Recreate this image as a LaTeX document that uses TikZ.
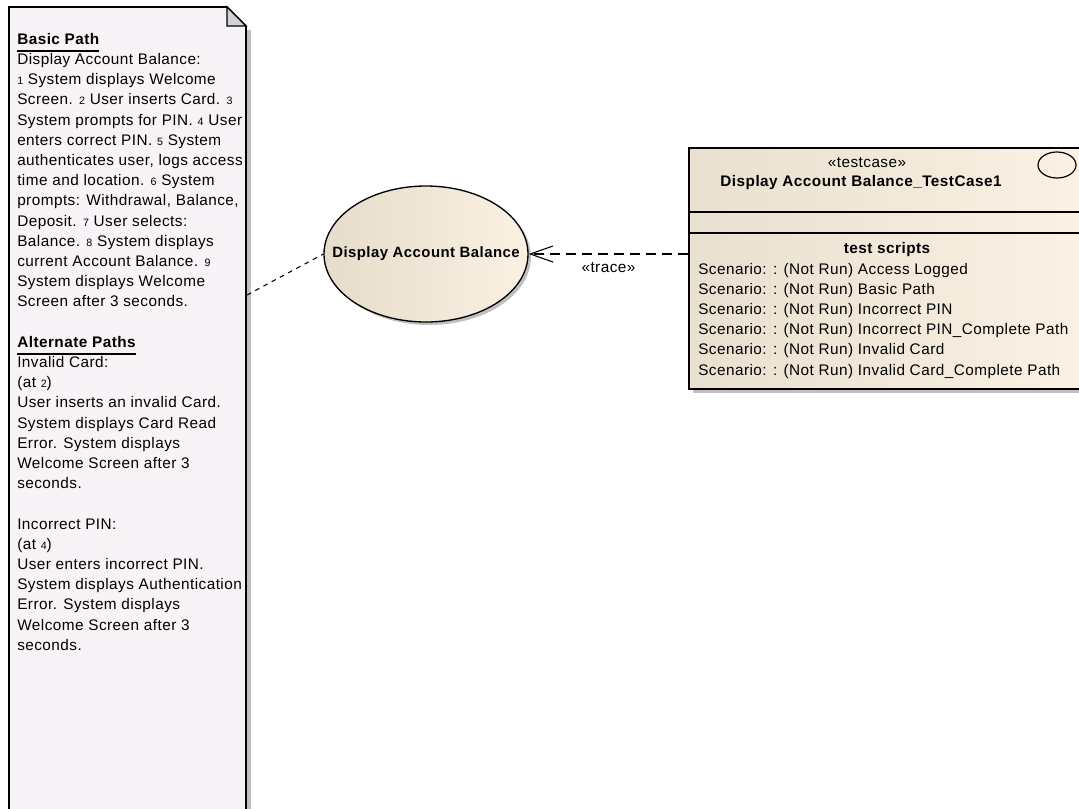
\documentclass[tikz,border=0pt]{standalone}
\usepackage{fontspec}
\setmainfont{Liberation Sans}
\newfontfamily\eafont{Liberation Sans}[LetterSpace=3]
\usetikzlibrary{shapes.geometric,arrows.meta}

\definecolor{notefill}{RGB}{247,243,247}
\definecolor{notefold}{RGB}{210,210,214}
\definecolor{shadowgray}{RGB}{192,192,192}
\definecolor{ucleft}{RGB}{230,220,203}
\definecolor{ucright}{RGB}{250,241,227}
\definecolor{tcleft}{RGB}{233,224,208}
\definecolor{tcright}{RGB}{251,241,228}

\newcommand\stepno[1]{{\fontsize{8}{8}\selectfont #1}}
\newcommand\ulhead[1]{\setbox0\hbox{\bfseries #1}\rlap{\rule[-5.5pt]{\wd0}{1.6pt}}\box0}

\tikzset{
  notebody/.style={fill=notefill, draw=black, line width=1.3pt},
  notecorner/.style={fill=notefold, draw=black, line width=1pt},
  shadowfill/.style={fill=shadowgray, draw=none},
  usecase/.style={ellipse, draw=black, line width=1pt, left color=ucleft, right color=ucright,
    minimum width=153pt, minimum height=102pt, inner sep=0pt,
    font=\eafont\bfseries\fontsize{11.2}{13}\selectfont},
  testbox/.style={rectangle, draw=black, line width=1pt, left color=tcleft, right color=tcright,
    minimum width=297pt, minimum height=180.75pt, inner sep=0pt},
  plaintext/.style={inner sep=0pt, font=\eafont\fontsize{11.5}{15.15}\selectfont},
  boldtext/.style={inner sep=0pt, font=\eafont\bfseries\fontsize{11.5}{15.15}\selectfont},
  notedash/.style={line width=0.8pt, dash pattern=on 3.5pt off 3.5pt},
  tracedash/.style={line width=0.8pt, dash pattern=on 7.5pt off 4.5pt,
    -{Straight Barb[length=17pt, width=12pt]}},
}

\begin{document}
\begin{tikzpicture}[x=0.75pt, y=-0.75pt]
  \useasboundingbox (0,0) rectangle (1079,808);
  \clip (0,0) rectangle (1079,808);

  % note on the left
  \path[shadowfill] (246,30) rectangle (251,820);
  \draw[notebody] (9,7) -- (227,7) -- (246,26) -- (246,820) -- (9,820) -- cycle;
  \draw[notecorner] (227,7) -- (246,26) -- (227,26) -- cycle;
  \node[plaintext, anchor=north west, align=left] (notetext) at (17,33) {%
    \ulhead{Basic Path}\\
    Display Account Balance:\\
    \stepno{1} System displays Welcome\\
    Screen. \stepno{2} User inserts Card. \stepno{3}\\
    System prompts for PIN. \stepno{4} User\\
    enters correct PIN. \stepno{5} System\\
    authenticates user, logs access\\
    time and location. \stepno{6} System\\
    prompts: Withdrawal, Balance,\\
    Deposit. \stepno{7} User selects:\\
    Balance. \stepno{8} System displays\\
    current Account Balance. \stepno{9}\\
    System displays Welcome\\
    Screen after 3 seconds.\\[15.15pt]
    \ulhead{Alternate Paths}\\
    Invalid Card:\\
    (at \stepno{2})\\
    User inserts an invalid Card.\\
    System displays Card Read\\
    Error. System displays\\
    Welcome Screen after 3\\
    seconds.\\[15.15pt]
    Incorrect PIN:\\
    (at \stepno{4})\\
    User enters incorrect PIN.\\
    System displays Authentication\\
    Error. System displays\\
    Welcome Screen after 3\\
    seconds.};
  \coordinate (notelink) at (247,295);

  % use case
  \fill[shadowgray] (429,257) ellipse [x radius=102, y radius=68];
  \node[usecase] (uc) at (426,254) {\makebox[0pt]{Display Account Balance}};

  % test case class
  \path[shadowfill] (693,152) rectangle (1090,393);
  \node[testbox] (tc) at (887,268.5) {};
  \draw[line width=1pt] (tc.west |- 0,212) -- (tc.east |- 0,212);
  \draw[line width=1pt] (tc.west |- 0,233) -- (tc.east |- 0,233);
  \node[ellipse, draw=black, line width=0.9pt, minimum width=28.5pt, minimum height=19.5pt, inner sep=0pt] (tcicon) at (1057,165) {};
  \node[plaintext] (tcstereo) at (867,163) {«testcase»};
  \node[boldtext] (tcname) at (861,183) {Display Account Balance\_TestCase1};
  \node[boldtext] (tcscripts) at (887,250) {test scripts};
  \foreach \sc [count=\i] in {Access Logged, Basic Path, Incorrect PIN, Incorrect PIN\_Complete Path, Invalid Card, Invalid Card\_Complete Path}
    \node[plaintext, anchor=west] (scen\i) at (698,{250+20.2*\i}) {Scenario: : (Not Run) \sc};

  % connectors
  \draw[notedash] (notelink) -- (uc.west);
  \draw[tracedash] (uc.east -| tc.west) -- (uc.east)
    node[plaintext, midway, yshift=-10.5pt] (tracelabel) {«trace»};
\end{tikzpicture}
\end{document}
